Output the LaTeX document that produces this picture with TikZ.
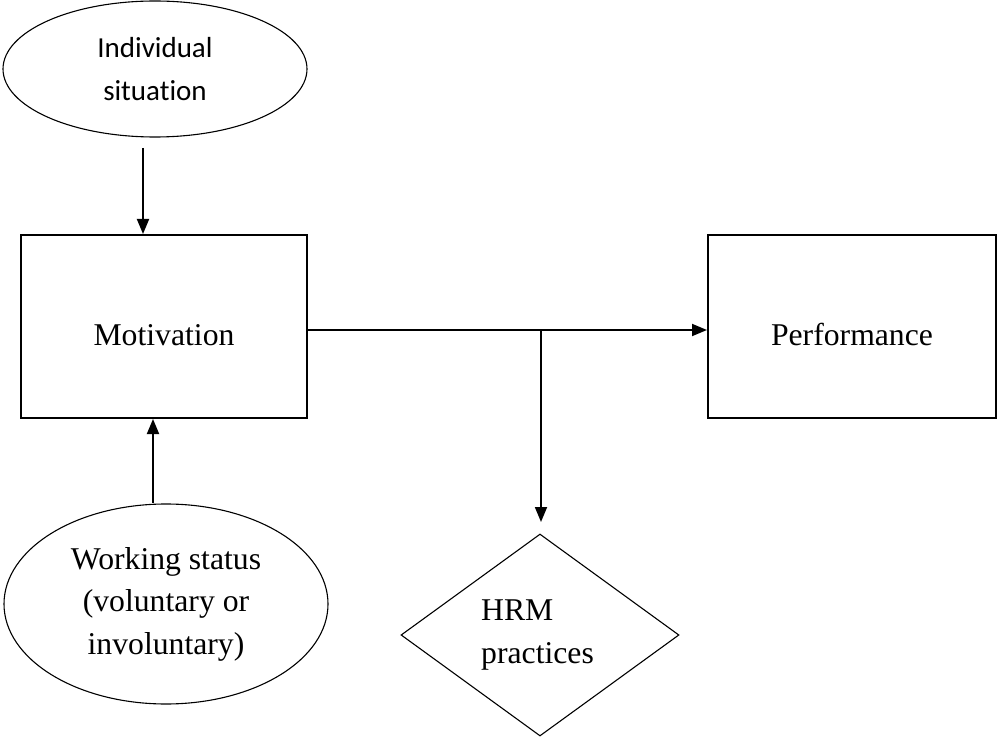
\documentclass[tikz,border=0pt]{standalone}
\usepackage{fontspec}
\setmainfont{Liberation Serif}
\newfontfamily\calfont[Ligatures=NoCommon]{Carlito}
\usetikzlibrary{arrows.meta,shapes.geometric}
\begin{document}
\begin{tikzpicture}[x=1pt,y=-1pt,
  serifbig/.style={font=\fontsize{31.7}{42.5}\selectfont},
  sansmid/.style={font=\calfont\fontsize{29}{42.5}\selectfont},
  boxnode/.style={draw,line width=2pt,inner sep=0pt,minimum width=286pt,minimum height=183pt},
  ellnode/.style={draw,ellipse,line width=1.1pt,inner sep=0pt,align=center},
  arr/.style={line width=1.8pt,-{Triangle[length=15pt,width=12pt]}}]
\useasboundingbox (0,0) rectangle (997,738);
% nodes
\node[ellnode,sansmid,minimum width=304pt,minimum height=136pt] (ind) at (155,69) {Individual\\situation};
\node[boxnode] (mot) at (164,326.5) {};
\node[serifbig,anchor=base,inner sep=0pt] (motl) at (164,345) {Motivation};
\node[boxnode,minimum width=288pt] (perf) at (852,326.5) {};
\node[serifbig,anchor=base,inner sep=0pt] (perfl) at (852,346) {Performance};
\node[ellnode,serifbig,minimum width=324pt,minimum height=200pt] (ws) at (166,604) {Working status\\(voluntary or\\involuntary)};
\node[draw,diamond,line width=1.1pt,inner sep=0pt,minimum width=278pt,minimum height=202pt] (hrm) at (540,635) {};
\node[serifbig,anchor=north west,inner sep=0pt,align=left] (hrml) at (481,600) {HRM\\practices};
% connector points
\coordinate (a1) at (143,148);
\coordinate (b1) at (153,503);
\coordinate (h1) at (307,330);
\coordinate (br) at (541,330);
\coordinate (br2) at (541,522);
% connectors
\draw[arr] (a1) -- (a1 |- mot.north);
\draw[arr] (b1) -- (b1 |- mot.south);
\draw[arr] (h1) -- (h1 -| perf.west);
\draw[arr] (br) -- (br2);
\end{tikzpicture}
\end{document}
